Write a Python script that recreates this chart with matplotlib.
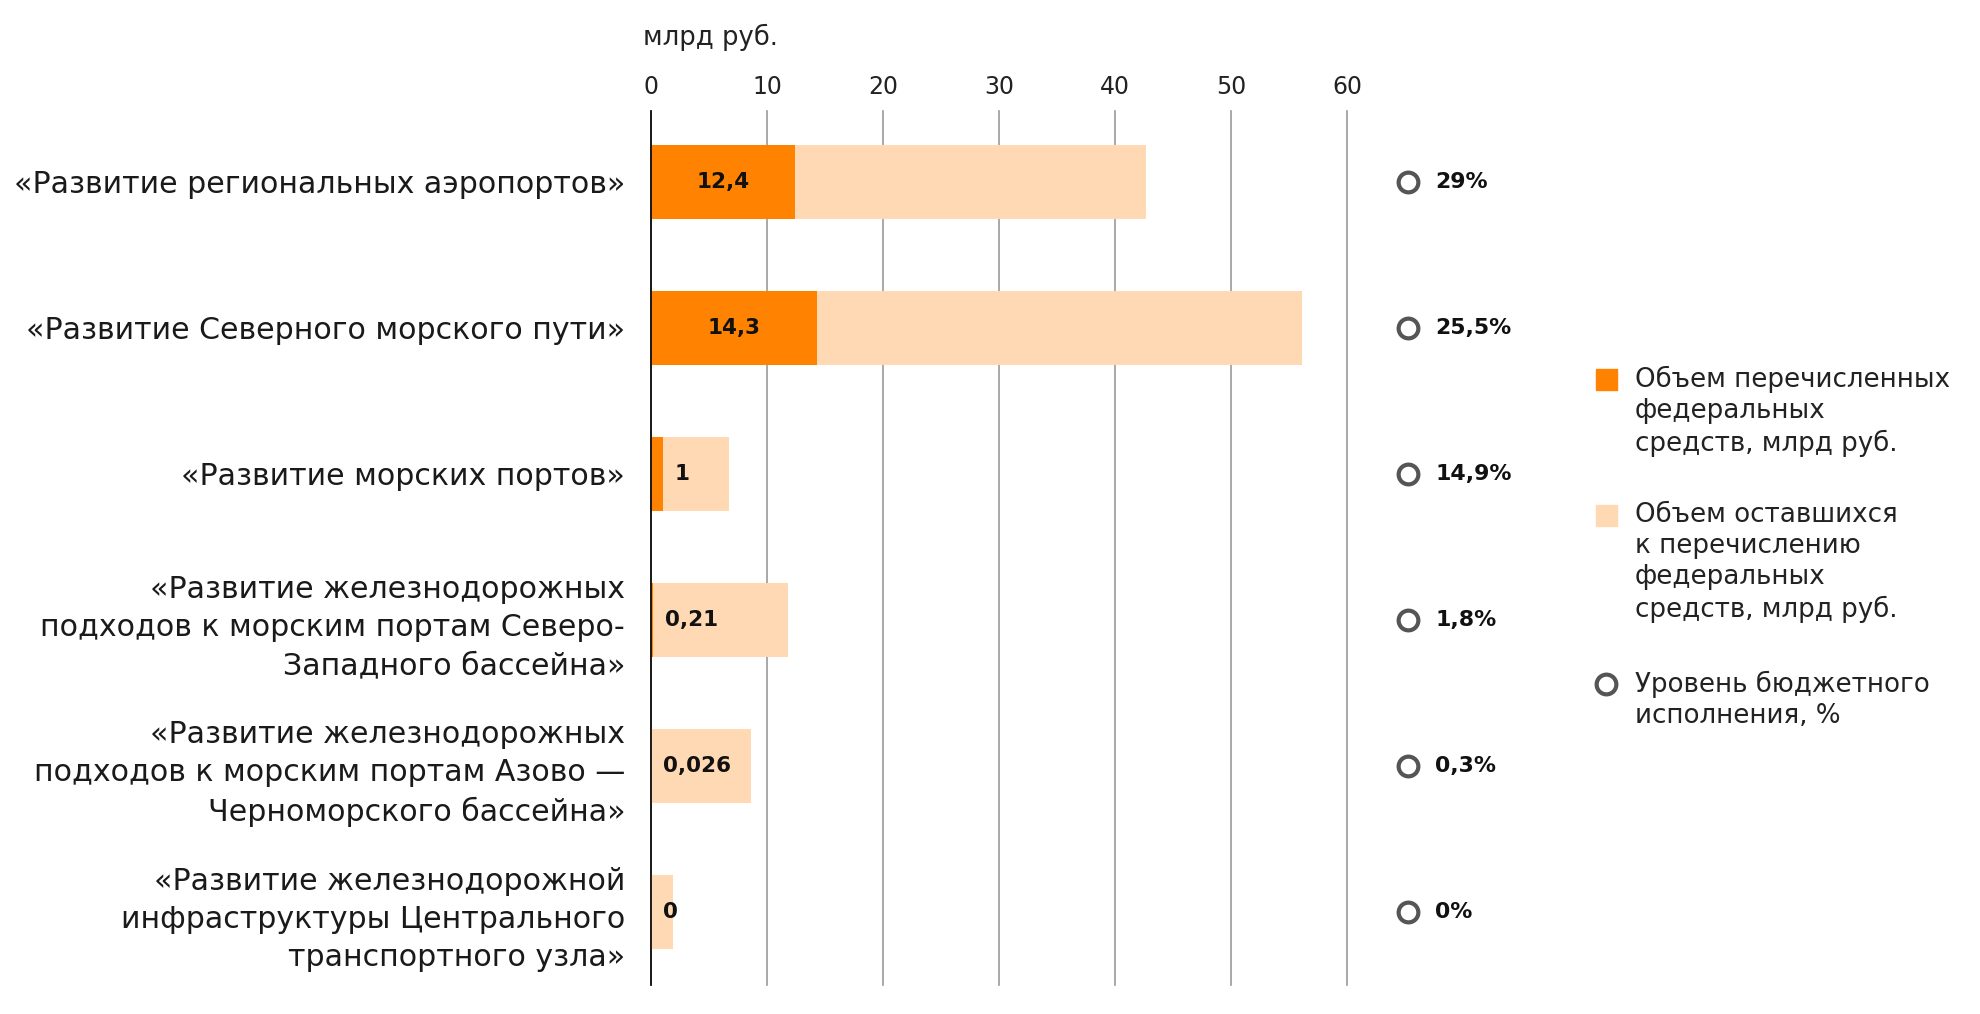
import matplotlib.pyplot as plt
import numpy as np

plt.rcParams['font.family'] = ['DejaVu Sans']

# ---------------------------------------------------------------
categories = [
    "«Развитие региональных аэропортов»",
    "«Развитие Северного морского пути»",
    "«Развитие морских портов»",
    "«Развитие железнодорожных\nподходов к морским портам Северо-\nЗападного бассейна»",
    "«Развитие железнодорожных\nподходов к морским портам Азово —\nЧерноморского бассейна»",
    "«Развитие железнодорожной\nинфраструктуры Центрального\nтранспортного узла»",
]
transferred = [12.4, 14.3, 1, 0.21, 0.026, 0]
remaining = [30.3, 41.8, 5.7, 11.6, 8.6, 1.9]
value_labels = ["12,4", "14,3", "1", "0,21", "0,026", "0"]
execution = ["29%", "25,5%", "14,9%", "1,8%", "0,3%", "0%"]
x_ticks = [0, 10, 20, 30, 40, 50, 60]

legend_items = [
    ("square", "#ff8300", "Объем перечисленных\nфедеральных\nсредств, млрд руб."),
    ("square", "#ffd9b3", "Объем оставшихся\nк перечислению\nфедеральных\nсредств, млрд руб."),
    ("circle", "#555555", "Уровень бюджетного\nисполнения, %"),
]
# ---------------------------------------------------------------

W, H = 1980, 1014
fig = plt.figure(figsize=(W / 100, H / 100), dpi=100)
ax = fig.add_axes([651 / W, 1 - 985 / H, (1347 - 651) / W, (985 - 111) / H])

y = np.arange(len(categories))
ax.barh(y, transferred, height=0.51, color="#ff8300", zorder=2)
ax.barh(y, remaining, left=transferred, height=0.51, color="#ffd9b3", zorder=2)

for yi, t, lab in zip(y, transferred, value_labels):
    if t >= 5:
        ax.text(t / 2, yi, lab, ha="center", va="center", fontsize=15.5,
                fontweight="bold", color="#111111", zorder=3)
    else:
        ax.text(t + 1.0, yi, lab, ha="left", va="center", fontsize=15.5,
                fontweight="bold", color="#111111", zorder=3)

# execution level circles
ax.plot([65.3] * len(y), y, "o", ms=14.2, mfc="white", mec="#555555", mew=3.0,
        clip_on=False, zorder=3)
for yi, e in zip(y, execution):
    ax.text(67.6, yi, e, ha="left", va="center", fontsize=15.8,
            fontweight="bold", color="#111111")

ax.set_xlim(0, 60)
ax.set_ylim(5.5, -0.486)
ax.set_xticks(x_ticks)
ax.xaxis.tick_top()
ax.tick_params(axis="x", length=0, pad=9, labelsize=17, labelcolor="#222222")
ax.set_yticks(y, categories)
ax.tick_params(axis="y", length=0, pad=18.7, labelsize=21.6, labelcolor="#1a1a1a")
for lab in ax.get_yticklabels():
    lab.set_linespacing(1.4)
ax.xaxis.grid(True, color="#9a9a9a", lw=1.2)
for gl in ax.get_xgridlines():
    gl.set_clip_on(False)
ax.set_axisbelow(True)
ax.axvline(0, color="black", lw=1.2, zorder=4, clip_on=False)
for s in ax.spines.values():
    s.set_visible(False)

fig.text(643 / W, 1 - 37 / H, "млрд руб.", ha="left", va="center", fontsize=18.6,
         color="#222222")

# legend, drawn by hand so that markers sit on the first line
leg_y = [379, 515, 684]
for (kind, col, txt), ly in zip(legend_items, leg_y):
    fy = 1 - ly / H
    if kind == "square":
        fig.patches.append(plt.Rectangle((1596 / W, 1 - (ly + 10.5) / H), 21 / W, 21 / H,
                                         transform=fig.transFigure, color=col))
    else:
        fig.lines.append(plt.Line2D([1606 / W], [fy], marker="o", ms=14.2, mfc="white",
                                    mec=col, mew=3.0, transform=fig.transFigure))
    fig.text(1635 / W, 1 - (ly - 13) / H, txt, ha="left", va="top", fontsize=18.8,
             color="#222222", linespacing=1.25, transform=fig.transFigure)

fig.savefig("out.png", dpi=100)
